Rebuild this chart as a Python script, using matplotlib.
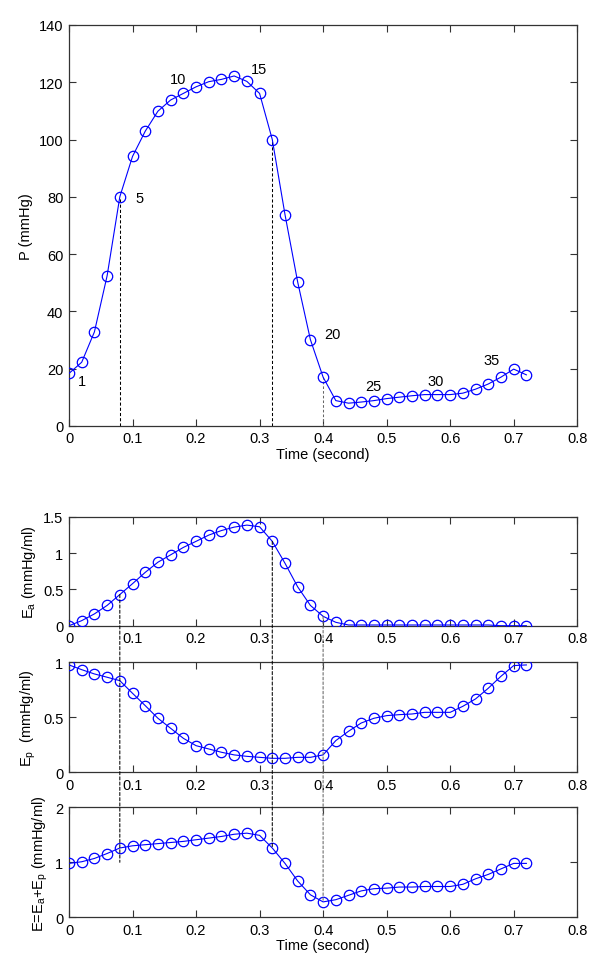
import matplotlib

matplotlib.use("Agg")
import matplotlib.pyplot as plt
from matplotlib.patches import ConnectionPatch
from matplotlib.ticker import FuncFormatter

plt.rcParams["font.family"] = ["Liberation Sans", "DejaVu Sans"]
plt.rcParams["font.size"] = 10.5

# sample times (s), 37 samples every 0.02 s
time = [round(0.02 * i, 2) for i in range(37)]

pressure = [18.3, 22.2, 32.8, 52.4, 80.0, 94.1, 102.9, 109.9, 113.8, 116.1,
            118.4, 120.2, 121.0, 122.2, 120.3, 116.1, 100.0, 73.8, 50.2, 30.1,
            17.0, 8.8, 7.9, 8.3, 8.8, 9.5, 10.0, 10.5, 10.9, 10.9,
            10.9, 11.4, 12.8, 14.6, 17.0, 19.8, 17.8]

elast_a = [0.0, 0.07, 0.163, 0.28, 0.43, 0.58, 0.736, 0.876, 0.978, 1.08,
           1.164, 1.25, 1.313, 1.36, 1.388, 1.365, 1.164, 0.862, 0.536, 0.28,
           0.13, 0.047, 0.01, 0.01, 0.01, 0.01, 0.01, 0.01, 0.01, 0.01,
           0.01, 0.01, 0.01, 0.01, 0.0, 0.0, 0.0]

elast_p = [0.976, 0.933, 0.894, 0.864, 0.833, 0.718, 0.606, 0.491, 0.40, 0.309,
           0.242, 0.212, 0.182, 0.158, 0.145, 0.136, 0.127, 0.127, 0.136, 0.136,
           0.158, 0.288, 0.373, 0.448, 0.491, 0.515, 0.524, 0.53, 0.545, 0.545,
           0.545, 0.60, 0.667, 0.764, 0.873, 0.97, 0.976]

elast_sum = [0.98, 1.01, 1.07, 1.16, 1.26, 1.30, 1.32, 1.34, 1.36, 1.38,
             1.41, 1.44, 1.47, 1.51, 1.53, 1.49, 1.26, 0.98, 0.66, 0.41,
             0.28, 0.32, 0.40, 0.48, 0.52, 0.53, 0.55, 0.55, 0.56, 0.56,
             0.56, 0.60, 0.70, 0.78, 0.88, 0.98, 0.98]

# sample numbers written next to the pressure curve, with text anchor (t, P)
point_labels = ["1", "5", "10", "15", "20", "25", "30", "35"]
label_t = [0.014, 0.104, 0.159, 0.287, 0.402, 0.467, 0.564, 0.653]
label_p = [15.8, 79.7, 121.0, 124.6, 31.9, 14.0, 15.8, 23.0]

# phase markers: sample index of each dashed line
marker_idx = [4, 16, 20]
marker_styles = [dict(color="black", dashes=(3, 2)),
                 dict(color="black", dashes=(3, 2)),
                 dict(color="0.4", dashes=(2.5, 2))]
# lower end of the dashed lines in the E panel
marker_low_e = [1.0, 1.26, 0.28]

x_ticks = [0, 0.1, 0.2, 0.3, 0.4, 0.5, 0.6, 0.7, 0.8]
p_ticks = [0, 20, 40, 60, 80, 100, 120, 140]
ea_ticks = [0, 0.5, 1, 1.5]
ep_ticks = [0, 0.5, 1]
e_ticks = [0, 1, 2]

BLUE = "#0000ff"
fmt = FuncFormatter(lambda v, _: f"{v:g}")


def style_axes(ax, yticks):
    ax.set_xlim(0, 0.8)
    ax.set_xticks(x_ticks)
    ax.set_yticks(yticks)
    ax.set_ylim(yticks[0], yticks[-1])
    ax.xaxis.set_major_formatter(fmt)
    ax.yaxis.set_major_formatter(fmt)
    ax.tick_params(direction="in", top=True, right=True, length=5,
                   width=0.8, color="0.2", pad=4)
    for spine in ax.spines.values():
        spine.set_linewidth(0.9)
        spine.set_color("0.2")


def plot_series(ax, values):
    ax.plot(time, values, color=BLUE, linewidth=0.8, marker="o",
            markersize=7.5, markerfacecolor="none", markeredgecolor=BLUE,
            markeredgewidth=0.9, zorder=3)


fig = plt.figure(figsize=(6, 9.7), dpi=100)
left, width = 0.115, 0.847
ax_p = fig.add_axes([left, 0.560, width, 0.4132])
ax_a = fig.add_axes([left, 0.3539, width, 0.1121])
ax_b = fig.add_axes([left, 0.2028, width, 0.1134])
ax_e = fig.add_axes([left, 0.0533, width, 0.1134])

# pressure panel
plot_series(ax_p, pressure)
for idx, st in zip(marker_idx, marker_styles):
    ax_p.plot([time[idx], time[idx]], [0, pressure[idx]], linewidth=0.75,
              zorder=2, **st)
for txt, tx, py in zip(point_labels, label_t, label_p):
    ax_p.text(tx, py, txt, ha="left", va="center", fontsize=10.5)
style_axes(ax_p, p_ticks)
ax_p.set_ylabel("P (mmHg)")
ax_p.set_xlabel("Time (second)", labelpad=1)

plot_series(ax_a, elast_a)
style_axes(ax_a, ea_ticks)
ax_a.set_ylabel("E$_\\mathregular{a}$ (mmHg/ml)")

plot_series(ax_b, elast_p)
style_axes(ax_b, ep_ticks)
ax_b.set_ylabel("E$_\\mathregular{p}$  (mmHg/ml)")

plot_series(ax_e, elast_sum)
style_axes(ax_e, e_ticks)
ax_e.set_ylabel("E=E$_\\mathregular{a}$+E$_\\mathregular{p}$ (mmHg/ml)")
ax_e.set_xlabel("Time (second)", labelpad=1)

# dashed markers running through the three elastance panels
for idx, st, low in zip(marker_idx, marker_styles, marker_low_e):
    con = ConnectionPatch(xyA=(time[idx], elast_a[idx]), coordsA=ax_a.transData,
                          xyB=(time[idx], low), coordsB=ax_e.transData,
                          linewidth=0.75, linestyle=(0, st["dashes"]),
                          color=st["color"], zorder=2)
    fig.add_artist(con)

fig.savefig("out.png", dpi=100)
